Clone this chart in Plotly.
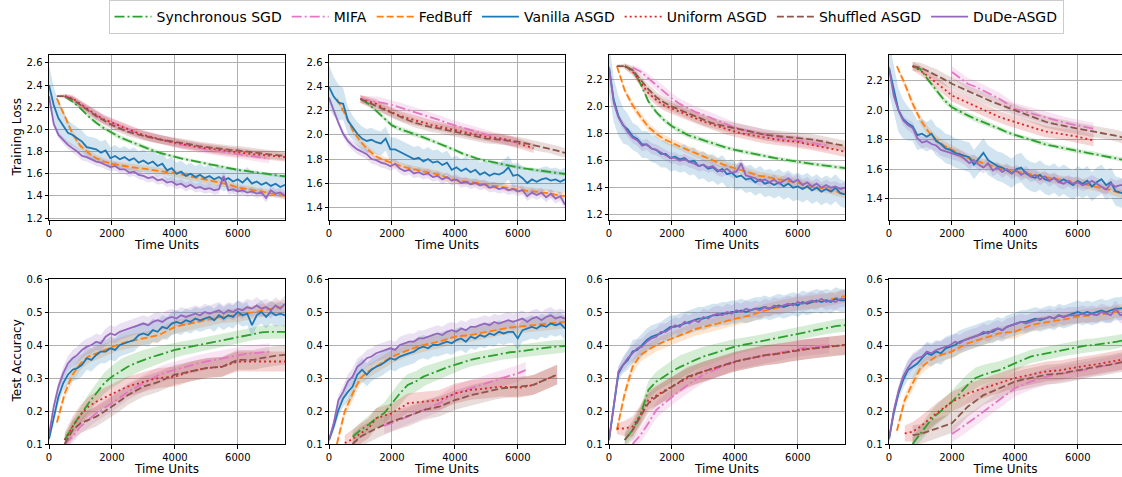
import numpy as np
import plotly.graph_objects as go

N = None
T_SMOOTH = list(range(0, 7501, 250))
T_NOISY = list(range(0, 7501, 150))
BAND_T = list(range(0, 7501, 750))

# ---------------- Training loss, panel 1 ----------------
P1_SYNC = [N, N, 2.30, 2.25, 2.19, 2.12, 2.06, 2.01, 1.97, 1.93, 1.90, 1.87, 1.84, 1.815, 1.79, 1.77, 1.75, 1.735, 1.72, 1.705, 1.69, 1.675, 1.66, 1.65, 1.635, 1.625, 1.615, 1.605, 1.595, 1.585, 1.575]
P1_MIFA = [N, N, 2.30, 2.28, 2.23, 2.18, 2.13, 2.09, 2.06, 2.03, 2.00, 1.975, 1.95, 1.93, 1.91, 1.89, 1.875, 1.86, 1.845, 1.83, 1.82, 1.81, 1.80, 1.79, 1.775, 1.765, 1.755, 1.745, 1.735, N, N]
P1_FEDB = [N, 2.28, 2.12, 1.96, 1.85, 1.79, 1.74, 1.71, 1.69, 1.675, 1.665, 1.655, 1.645, 1.64, 1.63, 1.62, 1.605, 1.59, 1.575, 1.56, 1.54, 1.525, 1.51, 1.50, 1.475, 1.465, 1.455, 1.44, 1.425, 1.41, 1.40]
P1_UNIF = [N, N, 2.30, 2.28, 2.23, 2.18, 2.13, 2.09, 2.06, 2.03, 2.00, 1.975, 1.95, 1.93, 1.91, 1.895, 1.88, 1.865, 1.85, 1.84, 1.83, 1.82, 1.81, 1.80, 1.79, 1.782, 1.775, 1.77, 1.765, 1.757, 1.75]
P1_SHUF = [N, 2.30, 2.30, 2.27, 2.22, 2.17, 2.12, 2.08, 2.04, 2.01, 1.98, 1.96, 1.94, 1.925, 1.91, 1.90, 1.89, 1.875, 1.865, 1.85, 1.84, 1.83, 1.82, 1.815, 1.81, 1.80, 1.79, 1.78, 1.775, 1.767, 1.76]
P1_VAN = [2.40, 2.22, 2.10, 2.03, 1.97, 1.95, 1.92, 1.89, 1.84, 1.83, 1.82, 1.79, 1.81, 1.74, 1.76, 1.73, 1.75, 1.72, 1.74, 1.70, 1.72, 1.69, 1.71, 1.67, 1.69, 1.63, 1.65, 1.60, 1.62, 1.58, 1.60, 1.57, 1.59, 1.56, 1.58, 1.55, 1.57, 1.54, 1.56, 1.53, 1.55, 1.52, 1.56, 1.51, 1.53, 1.50, 1.52, 1.49, 1.51, 1.48, 1.50]
P1_DUDE = [2.30, 2.05, 1.95, 1.90, 1.86, 1.83, 1.80, 1.76, 1.75, 1.73, 1.71, 1.70, 1.68, 1.66, 1.67, 1.64, 1.64, 1.61, 1.62, 1.59, 1.58, 1.56, 1.57, 1.54, 1.55, 1.52, 1.53, 1.50, 1.51, 1.48, 1.50, 1.47, 1.48, 1.46, 1.47, 1.45, 1.46, 1.58, 1.45, 1.46, 1.44, 1.45, 1.43, 1.44, 1.42, 1.43, 1.38, 1.45, 1.42, 1.43, 1.40]

# ---------------- Training loss, panel 2 ----------------
P2_SYNC = [N, N, N, N, 2.30, 2.26, 2.20, 2.14, 2.08, 2.05, 2.03, 2.005, 1.98, 1.955, 1.93, 1.90, 1.875, 1.845, 1.82, 1.80, 1.785, 1.77, 1.755, 1.74, 1.73, 1.72, 1.71, 1.70, 1.69, 1.68, 1.675]
P2_MIFA = [N, N, N, N, 2.30, 2.29, 2.28, 2.265, 2.25, 2.23, 2.21, 2.19, 2.165, 2.145, 2.125, 2.10, 2.08, 2.06, 2.04, 2.02, 2.0, 1.98, 1.96, 1.945, 1.93, N, N, N, N, N, N]
P2_FEDB = [N, 2.30, 2.18, 2.04, 1.945, 1.875, 1.82, 1.79, 1.765, 1.745, 1.725, 1.71, 1.695, 1.68, 1.67, 1.645, 1.625, 1.615, 1.61, 1.60, 1.585, 1.578, 1.57, 1.558, 1.545, 1.537, 1.53, 1.522, 1.515, 1.50, 1.49]
P2_UNIF = [N, N, N, N, 2.30, 2.28, 2.26, 2.22, 2.19, 2.16, 2.14, 2.12, 2.10, 2.085, 2.07, 2.055, 2.04, 2.03, 2.015, 2.0, 1.985, 1.975, 1.97, 1.955, 1.93, 1.91, 1.89, N, N, N, N]
P2_SHUF = [N, N, N, N, 2.30, 2.27, 2.24, 2.21, 2.18, 2.15, 2.125, 2.10, 2.08, 2.065, 2.055, 2.04, 2.03, 2.015, 2.0, 1.985, 1.97, 1.965, 1.96, 1.95, 1.945, 1.93, 1.915, 1.90, 1.89, 1.87, 1.85]
P2_VAN = [2.40, 2.32, 2.27, 2.26, 2.12, 2.06, 2.01, 1.97, 1.95, 1.96, 1.94, 1.93, 1.97, 1.88, 1.88, 1.86, 1.84, 1.82, 1.80, 1.81, 1.78, 1.80, 1.77, 1.78, 1.75, 1.77, 1.71, 1.73, 1.70, 1.72, 1.69, 1.71, 1.67, 1.69, 1.66, 1.68, 1.67, 1.69, 1.73, 1.66, 1.67, 1.64, 1.60, 1.63, 1.61, 1.63, 1.64, 1.62, 1.63, 1.61, 1.63]
P2_DUDE = [2.31, 2.20, 2.10, 2.01, 1.95, 1.91, 1.88, 1.86, 1.84, 1.80, 1.79, 1.77, 1.76, 1.74, 1.76, 1.72, 1.70, 1.71, 1.68, 1.69, 1.67, 1.68, 1.65, 1.66, 1.63, 1.65, 1.62, 1.63, 1.60, 1.61, 1.59, 1.60, 1.58, 1.59, 1.56, 1.57, 1.55, 1.56, 1.54, 1.55, 1.53, 1.54, 1.49, 1.52, 1.50, 1.52, 1.48, 1.51, 1.47, 1.49, 1.42]

# ---------------- Training loss, panel 3 ----------------
P3_SYNC = [N, N, 2.30, 2.27, 2.17, 2.04, 1.96, 1.90, 1.855, 1.82, 1.79, 1.77, 1.75, 1.73, 1.71, 1.695, 1.68, 1.667, 1.655, 1.642, 1.63, 1.62, 1.61, 1.60, 1.59, 1.582, 1.575, 1.567, 1.56, 1.552, 1.545]
P3_MIFA = [N, N, N, 2.29, 2.26, 2.21, 2.16, 2.11, 2.06, 2.02, 1.99, 1.96, 1.94, 1.915, 1.89, 1.865, 1.845, 1.83, 1.815, 1.80, 1.785, 1.775, 1.765, 1.755, 1.745, 1.735, 1.725, 1.718, 1.71, N, N]
P3_FEDB = [N, 2.30, 2.12, 2.01, 1.925, 1.85, 1.80, 1.76, 1.73, 1.705, 1.68, 1.655, 1.63, 1.605, 1.58, 1.56, 1.545, 1.525, 1.505, 1.49, 1.48, 1.47, 1.46, 1.447, 1.435, 1.42, 1.41, 1.397, 1.385, 1.37, 1.35]
P3_UNIF = [N, N, 2.30, 2.26, 2.18, 2.10, 2.05, 2.01, 1.985, 1.96, 1.94, 1.915, 1.89, 1.87, 1.85, 1.83, 1.815, 1.80, 1.79, 1.777, 1.765, 1.757, 1.75, 1.745, 1.74, 1.725, 1.715, 1.705, 1.695, 1.68, 1.665]
P3_SHUF = [N, 2.30, 2.30, 2.27, 2.20, 2.13, 2.07, 2.03, 2.00, 1.975, 1.95, 1.925, 1.90, 1.88, 1.865, 1.85, 1.84, 1.828, 1.815, 1.80, 1.79, 1.785, 1.78, 1.77, 1.765, 1.76, 1.755, 1.745, 1.73, 1.72, 1.71]
P3_VAN = [2.29, 2.05, 1.93, 1.86, 1.83, 1.78, 1.76, 1.72, 1.72, 1.69, 1.68, 1.65, 1.65, 1.62, 1.63, 1.61, 1.62, 1.59, 1.60, 1.56, 1.57, 1.54, 1.55, 1.52, 1.54, 1.50, 1.51, 1.48, 1.49, 1.46, 1.47, 1.44, 1.46, 1.43, 1.44, 1.42, 1.44, 1.41, 1.43, 1.40, 1.41, 1.39, 1.41, 1.38, 1.40, 1.37, 1.39, 1.37, 1.40, 1.36, 1.35]
P3_DUDE = [2.29, 2.03, 1.92, 1.86, 1.81, 1.77, 1.75, 1.71, 1.72, 1.69, 1.68, 1.66, 1.64, 1.62, 1.62, 1.60, 1.61, 1.59, 1.58, 1.56, 1.57, 1.55, 1.56, 1.53, 1.52, 1.54, 1.51, 1.52, 1.58, 1.49, 1.48, 1.47, 1.45, 1.46, 1.44, 1.46, 1.43, 1.45, 1.47, 1.44, 1.46, 1.42, 1.44, 1.41, 1.43, 1.40, 1.42, 1.40, 1.41, 1.39, 1.40]

# ---------------- Training loss, panel 4 ----------------
P4_SYNC = [N, N, N, 2.30, 2.28, 2.205, 2.135, 2.07, 2.02, 1.99, 1.965, 1.94, 1.92, 1.895, 1.875, 1.85, 1.83, 1.815, 1.80, 1.78, 1.765, 1.755, 1.745, 1.733, 1.72, 1.712, 1.705, 1.695, 1.685, 1.673, 1.66]
P4_MIFA = [N, N, N, N, N, N, N, N, 2.26, 2.22, 2.18, 2.16, 2.135, 2.11, 2.08, 2.045, 2.01, 1.995, 1.98, 1.96, 1.945, 1.932, 1.92, 1.907, 1.895, 1.885, 1.875, N, N, N, N]
P4_FEDB = [N, 2.30, 2.18, 2.045, 1.935, 1.855, 1.80, 1.76, 1.73, 1.70, 1.675, 1.657, 1.64, 1.62, 1.605, 1.595, 1.585, 1.572, 1.56, 1.55, 1.54, 1.532, 1.525, 1.517, 1.51, 1.495, 1.48, 1.47, 1.46, 1.442, 1.425]
P4_UNIF = [N, N, N, 2.30, 2.27, 2.23, 2.19, 2.145, 2.10, 2.075, 2.05, 2.025, 2.0, 1.977, 1.955, 1.937, 1.92, 1.90, 1.885, 1.87, 1.855, 1.847, 1.84, 1.83, 1.82, 1.807, 1.795, N, N, N, N]
P4_SHUF = [N, N, N, 2.30, 2.29, 2.265, 2.24, 2.21, 2.18, 2.155, 2.13, 2.105, 2.08, 2.06, 2.04, 2.02, 2.0, 1.98, 1.96, 1.94, 1.92, 1.907, 1.895, 1.885, 1.875, 1.865, 1.855, 1.847, 1.84, 1.825, 1.81]
P4_VAN = [2.29, 2.15, 2.00, 1.94, 1.91, 1.89, 1.83, 1.84, 1.82, 1.84, 1.79, 1.77, 1.74, 1.73, 1.71, 1.70, 1.69, 1.68, 1.63, 1.67, 1.71, 1.66, 1.64, 1.62, 1.61, 1.59, 1.57, 1.60, 1.61, 1.57, 1.55, 1.54, 1.56, 1.53, 1.52, 1.54, 1.51, 1.53, 1.51, 1.49, 1.52, 1.50, 1.52, 1.48, 1.51, 1.53, 1.49, 1.51, 1.45, 1.44, 1.43]
P4_DUDE = [2.29, 2.10, 2.00, 1.93, 1.90, 1.88, 1.81, 1.78, 1.79, 1.77, 1.76, 1.73, 1.72, 1.71, 1.70, 1.69, 1.67, 1.64, 1.66, 1.63, 1.61, 1.64, 1.59, 1.61, 1.58, 1.60, 1.57, 1.59, 1.56, 1.58, 1.55, 1.56, 1.53, 1.55, 1.52, 1.54, 1.51, 1.50, 1.52, 1.50, 1.51, 1.49, 1.50, 1.52, 1.50, 1.48, 1.46, 1.50, 1.48, 1.49, 1.49]

# ---------------- Test accuracy, panel 5 ----------------
P5_SYNC = [N, N, 0.112, 0.153, 0.188, 0.223, 0.253, 0.284, 0.304, 0.32, 0.334, 0.345, 0.355, 0.363, 0.37, 0.378, 0.385, 0.39, 0.395, 0.40, 0.405, 0.41, 0.415, 0.42, 0.425, 0.43, 0.435, 0.438, 0.44, 0.44, 0.44]
P5_MIFA = [N, N, 0.10, 0.122, 0.153, 0.173, 0.193, 0.208, 0.223, 0.24, 0.258, 0.271, 0.284, 0.297, 0.31, 0.318, 0.325, 0.333, 0.34, 0.345, 0.35, 0.355, 0.36, 0.365, 0.37, 0.373, 0.375, 0.378, 0.38, N, N]
P5_FEDB = [N, 0.165, 0.253, 0.31, 0.344, 0.365, 0.375, 0.385, 0.395, 0.403, 0.41, 0.415, 0.42, 0.425, 0.43, 0.443, 0.455, 0.46, 0.466, 0.471, 0.476, 0.481, 0.486, 0.488, 0.49, 0.495, 0.50, 0.505, 0.51, 0.513, 0.516]
P5_UNIF = [N, N, 0.112, 0.153, 0.188, 0.213, 0.228, 0.24, 0.253, 0.263, 0.274, 0.281, 0.289, 0.295, 0.30, 0.302, 0.304, 0.312, 0.32, 0.325, 0.33, 0.332, 0.334, 0.342, 0.35, 0.35, 0.35, 0.35, 0.35, 0.35, 0.35]
P5_SHUF = [N, N, 0.10, 0.142, 0.163, 0.173, 0.183, 0.198, 0.213, 0.23, 0.248, 0.261, 0.274, 0.281, 0.289, 0.30, 0.31, 0.315, 0.32, 0.325, 0.33, 0.332, 0.334, 0.345, 0.355, 0.355, 0.355, 0.36, 0.365, 0.368, 0.37]
P5_VAN = [0.115, 0.183, 0.243, 0.284, 0.31, 0.325, 0.33, 0.34, 0.36, 0.355, 0.37, 0.38, 0.38, 0.39, 0.385, 0.40, 0.405, 0.41, 0.415, 0.43, 0.435, 0.43, 0.445, 0.44, 0.455, 0.45, 0.465, 0.47, 0.465, 0.475, 0.47, 0.48, 0.475, 0.48, 0.485, 0.475, 0.49, 0.48, 0.49, 0.485, 0.50, 0.49, 0.495, 0.46, 0.49, 0.50, 0.485, 0.50, 0.49, 0.495, 0.49]
P5_DUDE = [0.127, 0.213, 0.274, 0.314, 0.344, 0.36, 0.37, 0.385, 0.395, 0.40, 0.41, 0.405, 0.425, 0.435, 0.43, 0.44, 0.445, 0.45, 0.455, 0.46, 0.465, 0.46, 0.47, 0.475, 0.47, 0.48, 0.485, 0.48, 0.49, 0.485, 0.49, 0.495, 0.49, 0.50, 0.495, 0.50, 0.505, 0.495, 0.505, 0.50, 0.51, 0.505, 0.515, 0.51, 0.52, 0.51, 0.515, 0.505, 0.52, 0.51, 0.525]

# ---------------- Test accuracy, panel 6 ----------------
P6_SYNC = [N, N, N, 0.122, 0.142, 0.158, 0.178, 0.193, 0.223, 0.253, 0.279, 0.289, 0.304, 0.314, 0.324, 0.332, 0.34, 0.348, 0.355, 0.36, 0.365, 0.37, 0.375, 0.378, 0.38, 0.384, 0.387, 0.39, 0.393, 0.395, 0.397]
P6_MIFA = [N, N, N, N, N, N, N, 0.155, 0.163, 0.173, 0.183, 0.193, 0.203, 0.213, 0.223, 0.238, 0.253, 0.261, 0.269, 0.276, 0.284, 0.292, 0.30, 0.307, 0.314, 0.324, N, N, N, N, N]
P6_FEDB = [N, 0.10, 0.198, 0.253, 0.30, 0.32, 0.334, 0.35, 0.365, 0.375, 0.385, 0.393, 0.40, 0.405, 0.41, 0.418, 0.425, 0.428, 0.43, 0.435, 0.44, 0.445, 0.45, 0.453, 0.455, 0.458, 0.46, 0.463, 0.466, 0.468, 0.47]
P6_UNIF = [N, N, 0.103, 0.115, 0.132, 0.147, 0.178, 0.186, 0.193, 0.208, 0.223, 0.226, 0.228, 0.23, 0.233, 0.243, 0.253, 0.258, 0.264, 0.266, 0.269, 0.271, 0.274, 0.272, 0.27, 0.274, 0.279, 0.29, 0.30, 0.31, N]
P6_SHUF = [N, N, N, 0.10, 0.122, 0.135, 0.147, 0.158, 0.168, 0.176, 0.183, 0.193, 0.203, 0.208, 0.213, 0.223, 0.233, 0.24, 0.248, 0.253, 0.258, 0.264, 0.269, 0.271, 0.274, 0.276, 0.279, 0.29, 0.30, 0.31, N]
P6_VAN = [0.112, 0.153, 0.203, 0.238, 0.258, 0.274, 0.31, 0.325, 0.31, 0.325, 0.334, 0.34, 0.35, 0.36, 0.355, 0.365, 0.37, 0.375, 0.38, 0.39, 0.395, 0.39, 0.40, 0.40, 0.405, 0.41, 0.405, 0.415, 0.42, 0.41, 0.425, 0.42, 0.43, 0.425, 0.435, 0.43, 0.44, 0.435, 0.44, 0.44, 0.42, 0.445, 0.45, 0.455, 0.45, 0.46, 0.455, 0.465, 0.46, 0.465, 0.45]
P6_DUDE = [0.112, 0.163, 0.233, 0.258, 0.29, 0.304, 0.334, 0.345, 0.36, 0.365, 0.375, 0.38, 0.385, 0.39, 0.385, 0.40, 0.405, 0.41, 0.41, 0.42, 0.42, 0.425, 0.43, 0.435, 0.43, 0.44, 0.445, 0.44, 0.45, 0.445, 0.455, 0.455, 0.46, 0.465, 0.46, 0.47, 0.465, 0.47, 0.475, 0.47, 0.475, 0.48, 0.47, 0.48, 0.485, 0.475, 0.485, 0.49, 0.48, 0.485, 0.48]

# ---------------- Test accuracy, panel 7 ----------------
P7_SYNC = [N, N, 0.112, 0.142, 0.188, 0.264, 0.289, 0.305, 0.32, 0.333, 0.345, 0.355, 0.365, 0.373, 0.38, 0.388, 0.395, 0.40, 0.405, 0.41, 0.415, 0.42, 0.425, 0.43, 0.435, 0.44, 0.445, 0.45, 0.455, 0.458, 0.46]
P7_MIFA = [N, N, N, 0.10, 0.127, 0.163, 0.203, 0.223, 0.243, 0.261, 0.279, 0.295, 0.31, 0.32, 0.33, 0.34, 0.35, 0.355, 0.36, 0.365, 0.37, 0.375, 0.38, 0.385, 0.39, 0.393, 0.395, 0.398, 0.40, N, N]
P7_FEDB = [N, 0.142, 0.253, 0.334, 0.37, 0.385, 0.40, 0.41, 0.42, 0.43, 0.44, 0.448, 0.455, 0.46, 0.466, 0.473, 0.48, 0.485, 0.49, 0.498, 0.506, 0.511, 0.516, 0.521, 0.526, 0.528, 0.53, 0.534, 0.538, 0.543, 0.548]
P7_UNIF = [N, 0.147, 0.147, 0.153, 0.188, 0.233, 0.248, 0.261, 0.274, 0.287, 0.30, 0.31, 0.32, 0.327, 0.334, 0.342, 0.35, 0.355, 0.36, 0.365, 0.37, 0.372, 0.375, 0.38, 0.385, 0.388, 0.39, 0.393, 0.395, 0.398, 0.40]
P7_SHUF = [N, N, 0.112, 0.142, 0.183, 0.223, 0.243, 0.258, 0.274, 0.29, 0.304, 0.312, 0.32, 0.327, 0.334, 0.342, 0.35, 0.355, 0.36, 0.365, 0.37, 0.372, 0.375, 0.379, 0.383, 0.387, 0.39, 0.393, 0.395, 0.398, 0.40]
P7_VAN = [0.112, 0.213, 0.314, 0.34, 0.355, 0.38, 0.385, 0.40, 0.415, 0.425, 0.43, 0.435, 0.445, 0.455, 0.455, 0.46, 0.465, 0.47, 0.475, 0.48, 0.48, 0.485, 0.49, 0.49, 0.495, 0.495, 0.50, 0.50, 0.505, 0.50, 0.505, 0.51, 0.51, 0.515, 0.51, 0.515, 0.52, 0.515, 0.52, 0.525, 0.52, 0.53, 0.525, 0.53, 0.535, 0.53, 0.535, 0.53, 0.54, 0.535, 0.535]
P7_DUDE = [0.112, 0.22, 0.32, 0.34, 0.36, 0.375, 0.39, 0.395, 0.41, 0.42, 0.425, 0.44, 0.44, 0.45, 0.46, 0.455, 0.47, 0.465, 0.475, 0.47, 0.485, 0.48, 0.49, 0.495, 0.49, 0.50, 0.495, 0.505, 0.50, 0.51, 0.505, 0.51, 0.505, 0.515, 0.51, 0.52, 0.515, 0.52, 0.525, 0.52, 0.53, 0.525, 0.53, 0.535, 0.53, 0.54, 0.53, 0.535, 0.53, 0.54, 0.54]

# ---------------- Test accuracy, panel 8 ----------------
P8_SYNC = [N, N, N, 0.10, 0.132, 0.163, 0.188, 0.208, 0.228, 0.253, 0.279, 0.30, 0.31, 0.317, 0.324, 0.334, 0.344, 0.355, 0.365, 0.37, 0.375, 0.38, 0.385, 0.39, 0.395, 0.398, 0.40, 0.403, 0.405, 0.41, 0.415]
P8_MIFA = [N, N, N, N, N, N, N, N, 0.13, 0.146, 0.163, 0.18, 0.198, 0.215, 0.233, 0.251, 0.269, 0.279, 0.289, 0.296, 0.304, 0.309, 0.314, 0.317, 0.32, 0.325, 0.33, 0.335, 0.34, 0.345, 0.35]
P8_FEDB = [N, 0.14, 0.233, 0.284, 0.33, 0.35, 0.365, 0.373, 0.38, 0.393, 0.405, 0.413, 0.42, 0.428, 0.435, 0.438, 0.44, 0.45, 0.46, 0.465, 0.47, 0.473, 0.476, 0.481, 0.486, 0.488, 0.49, 0.493, 0.496, 0.501, 0.506]
P8_UNIF = [N, N, 0.132, 0.137, 0.153, 0.173, 0.193, 0.21, 0.228, 0.24, 0.253, 0.261, 0.269, 0.277, 0.284, 0.292, 0.30, 0.305, 0.31, 0.315, 0.32, 0.322, 0.324, 0.329, 0.334, 0.337, 0.34, 0.345, 0.35, 0.353, 0.357]
P8_SHUF = [N, N, N, 0.127, 0.13, 0.138, 0.147, 0.155, 0.163, 0.188, 0.213, 0.23, 0.248, 0.258, 0.269, 0.279, 0.289, 0.295, 0.30, 0.305, 0.31, 0.312, 0.314, 0.319, 0.324, 0.329, 0.334, 0.337, 0.34, 0.345, 0.35]
P8_VAN = [0.115, 0.193, 0.253, 0.294, 0.324, 0.334, 0.344, 0.36, 0.375, 0.37, 0.38, 0.375, 0.39, 0.395, 0.40, 0.41, 0.415, 0.42, 0.425, 0.43, 0.435, 0.44, 0.44, 0.45, 0.445, 0.455, 0.46, 0.465, 0.47, 0.47, 0.475, 0.48, 0.475, 0.48, 0.485, 0.48, 0.49, 0.485, 0.49, 0.495, 0.50, 0.495, 0.50, 0.495, 0.50, 0.505, 0.50, 0.505, 0.51, 0.51, 0.515]
P8_DUDE = [0.115, 0.20, 0.26, 0.304, 0.33, 0.35, 0.36, 0.365, 0.38, 0.375, 0.385, 0.39, 0.395, 0.40, 0.41, 0.405, 0.415, 0.42, 0.425, 0.43, 0.44, 0.435, 0.445, 0.45, 0.445, 0.455, 0.46, 0.465, 0.47, 0.465, 0.47, 0.475, 0.48, 0.48, 0.485, 0.48, 0.49, 0.485, 0.49, 0.49, 0.49, 0.495, 0.49, 0.495, 0.49, 0.50, 0.495, 0.49, 0.51, 0.49, 0.495]

# ---------------- Spread (half-width of shaded bands), at BAND_T ----------------
LB_SYNC = [0.0, 0.01, 0.02, 0.02, 0.02, 0.015, 0.015, 0.015, 0.015, 0.015, 0.015]
LB_MIFA = [0.0, 0.02, 0.04, 0.04, 0.04, 0.04, 0.04, 0.04, 0.04, 0.04, 0.04]
LB_FEDB = [0.01, 0.03, 0.03, 0.03, 0.03, 0.03, 0.03, 0.03, 0.03, 0.03, 0.03]
LB_VAN = [0.18, 0.10, 0.10, 0.10, 0.10, 0.10, 0.10, 0.10, 0.10, 0.10, 0.10]
LB_UNIF = [0.0, 0.03, 0.04, 0.04, 0.04, 0.04, 0.04, 0.04, 0.04, 0.04, 0.04]
LB_SHUF = [0.0, 0.03, 0.04, 0.04, 0.04, 0.04, 0.04, 0.04, 0.04, 0.04, 0.04]
LB_DUDE = [0.02, 0.04, 0.04, 0.04, 0.04, 0.04, 0.04, 0.04, 0.04, 0.04, 0.04]
AB_SYNC = [0.01, 0.02, 0.03, 0.035, 0.03, 0.025, 0.02, 0.02, 0.02, 0.02, 0.02]
AB_MIFA = [0.01, 0.02, 0.025, 0.025, 0.025, 0.025, 0.025, 0.025, 0.025, 0.025, 0.025]
AB_FEDB = [0.01, 0.02, 0.02, 0.02, 0.02, 0.02, 0.02, 0.02, 0.02, 0.02, 0.02]
AB_VAN = [0.01, 0.035, 0.035, 0.035, 0.035, 0.035, 0.035, 0.035, 0.035, 0.035, 0.035]
AB_UNIF = [0.01, 0.03, 0.03, 0.03, 0.03, 0.03, 0.03, 0.03, 0.03, 0.03, 0.03]
AB_SHUF = [0.01, 0.03, 0.03, 0.03, 0.03, 0.03, 0.03, 0.03, 0.03, 0.03, 0.03]
AB_DUDE = [0.01, 0.025, 0.025, 0.025, 0.025, 0.025, 0.025, 0.025, 0.025, 0.025, 0.025]

NAMES = ["Synchronous SGD", "MIFA", "FedBuff", "Vanilla ASGD", "Uniform ASGD", "Shuffled ASGD", "DuDe-ASGD"]
COLORS = ["#2ca02c", "#e377c2", "#ff7f0e", "#1f77b4", "#d62728", "#8c564b", "#9467bd"]
DASHES = ["10px,3px,2px,3px", "10px,3px,2px,3px", "7px,3px", "solid", "2px,3px", "7px,3px", "solid"]
NOISY = [False, False, False, True, False, False, True]

PANELS = [
    [P1_SYNC, P1_MIFA, P1_FEDB, P1_VAN, P1_UNIF, P1_SHUF, P1_DUDE],
    [P2_SYNC, P2_MIFA, P2_FEDB, P2_VAN, P2_UNIF, P2_SHUF, P2_DUDE],
    [P3_SYNC, P3_MIFA, P3_FEDB, P3_VAN, P3_UNIF, P3_SHUF, P3_DUDE],
    [P4_SYNC, P4_MIFA, P4_FEDB, P4_VAN, P4_UNIF, P4_SHUF, P4_DUDE],
    [P5_SYNC, P5_MIFA, P5_FEDB, P5_VAN, P5_UNIF, P5_SHUF, P5_DUDE],
    [P6_SYNC, P6_MIFA, P6_FEDB, P6_VAN, P6_UNIF, P6_SHUF, P6_DUDE],
    [P7_SYNC, P7_MIFA, P7_FEDB, P7_VAN, P7_UNIF, P7_SHUF, P7_DUDE],
    [P8_SYNC, P8_MIFA, P8_FEDB, P8_VAN, P8_UNIF, P8_SHUF, P8_DUDE],
]
LOSS_BANDS = [LB_SYNC, LB_MIFA, LB_FEDB, LB_VAN, LB_UNIF, LB_SHUF, LB_DUDE]
ACC_BANDS = [AB_SYNC, AB_MIFA, AB_FEDB, AB_VAN, AB_UNIF, AB_SHUF, AB_DUDE]
Y_RANGES = [[1.182, 2.672], [1.292, 2.666], [1.161, 2.382], [1.253, 2.376],
            [0.1, 0.6], [0.1, 0.6], [0.1, 0.6], [0.1, 0.6]]

W, H = 1122, 477
COL_LEFT = [49, 329, 609, 889]
PW = 236
ROW_TOP = [55, 279]
PH = 165


def rgba(hexc, a):
    h = hexc.lstrip("#")
    return "rgba(%d,%d,%d,%.2f)" % (int(h[0:2], 16), int(h[2:4], 16), int(h[4:6], 16), a)


fig = go.Figure()
layout = {}

for p, series in enumerate(PANELS):
    row, col = divmod(p, 4)
    ax = "" if p == 0 else str(p + 1)
    xref, yref = "x" + ax, "y" + ax
    bands = LOSS_BANDS if row == 0 else ACC_BANDS
    # bands first
    for s, vals in enumerate(series):
        tgrid = T_NOISY if NOISY[s] else T_SMOOTH
        xs = [t for t, v in zip(tgrid, vals) if v is not None]
        ys = np.array([v for v in vals if v is not None], dtype=float)
        hw = np.interp(xs, BAND_T, bands[s])
        up, lo = ys + hw, ys - hw
        fig.add_trace(go.Scatter(
            x=xs + xs[::-1], y=list(up) + list(lo[::-1]), mode="lines",
            fill="toself", fillcolor=rgba(COLORS[s], 0.2), line=dict(width=0),
            hoverinfo="skip", showlegend=False, xaxis=xref, yaxis=yref))
    for s, vals in enumerate(series):
        tgrid = T_NOISY if NOISY[s] else T_SMOOTH
        fig.add_trace(go.Scatter(
            x=tgrid, y=vals, mode="lines", name=NAMES[s],
            line=dict(color=COLORS[s], width=1.8, dash=DASHES[s]),
            showlegend=(p == 0), connectgaps=False, xaxis=xref, yaxis=yref))

    x0 = COL_LEFT[col]
    x1 = min(x0 + PW, W)
    xmax = 7500 * (x1 - x0) / PW
    y0px = ROW_TOP[row]
    common = dict(showline=True, linecolor="black", linewidth=1,
                  showgrid=True, gridcolor="#b0b0b0", gridwidth=1,
                  ticks="outside", ticklen=3.5, tickcolor="black",
                  tickfont=dict(family="DejaVu Sans", size=10, color="black"),
                  zeroline=False, automargin=False)
    layout["xaxis" + ax] = dict(
        common, domain=[x0 / W, x1 / W], range=[0, xmax], anchor=yref,
        tickvals=[0, 2000, 4000, 6000], ticktext=["0", "2000", "4000", "6000"],
        mirror=True,
        title=dict(text="Time Units", font=dict(family="DejaVu Sans", size=12, color="black"), standoff=3))
    if row == 0:
        yt = dict(dtick=0.2, tick0=0, tickformat=".1f")
    else:
        yt = dict(dtick=0.1, tick0=0, tickformat=".1f")
    layout["yaxis" + ax] = dict(
        common, domain=[1 - (y0px + PH) / H, 1 - y0px / H], range=Y_RANGES[p],
        anchor=xref, mirror=(col != 3), **yt)

annotations = []
for row, txt in enumerate(["Training Loss", "Test Accuracy"]):
    yc = 1 - (ROW_TOP[row] + PH / 2) / H
    annotations.append(dict(text=txt, x=16 / W, y=yc, xref="paper", yref="paper",
                            xanchor="center", yanchor="middle", textangle=-90,
                            showarrow=False,
                            font=dict(family="DejaVu Sans", size=12, color="black")))

fig.update_layout(
    width=W, height=H, margin=dict(l=0, r=0, t=0, b=0, autoexpand=False),
    paper_bgcolor="white", plot_bgcolor="white",
    font=dict(family="DejaVu Sans", color="black"),
    annotations=annotations,
    legend=dict(orientation="h", x=586 / W, xanchor="center", y=1.0, yanchor="top",
                bordercolor="#cccccc", borderwidth=1, bgcolor="white",
                font=dict(family="DejaVu Sans", size=14, color="black"),
                itemwidth=37, tracegroupgap=0),
    **layout)

fig.write_html("out.html", config={"displayModeBar": False},
               post_script="document.body.style.margin='0';document.body.style.padding='0';"
                           "document.body.style.overflow='hidden';")
